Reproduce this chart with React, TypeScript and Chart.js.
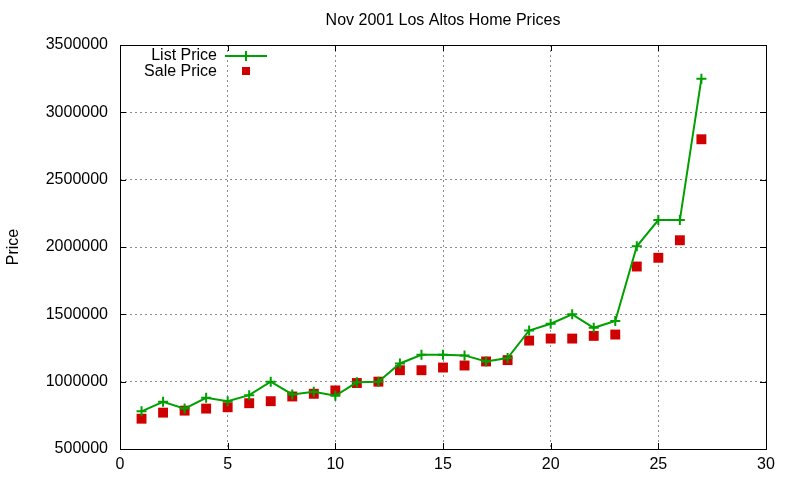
import React, { useEffect, useRef } from "react";
import { Chart, registerables } from "chart.js";

Chart.register(...registerables);

const xValues = [1, 2, 3, 4, 5, 6, 7, 8, 9, 10, 11, 12, 13, 14, 15, 16, 17, 18, 19, 20, 21, 22, 23, 24, 25, 26, 27];
const listPrice = [780000, 850000, 800000, 880000, 855000, 900000, 1000000, 905000, 925000, 895000, 995000, 1000000, 1135000, 1200000, 1200000, 1195000, 1150000, 1175000, 1380000, 1430000, 1500000, 1400000, 1450000, 2005000, 2200000, 2200000, 3250000];
const salePrice = [725000, 770000, 785000, 800000, 810000, 840000, 855000, 890000, 910000, 935000, 990000, 1000000, 1085000, 1085000, 1105000, 1120000, 1150000, 1160000, 1305000, 1320000, 1320000, 1340000, 1350000, 1855000, 1920000, 2050000, 2800000];
const xTicks = [0, 5, 10, 15, 20, 25, 30];
const yTicks = [500000, 1000000, 1500000, 2000000, 2500000, 3000000, 3500000];
const titleText = "Nov 2001 Los Altos Home Prices";
const yTitle = "Price";
const seriesNames = ["List Price", "Sale Price"];

const GREEN = "#00a000";
const RED = "#d00000";
const FONT = "'Liberation Sans', Arial, sans-serif";

const framePlugin = {
  id: "frameAndLegend",
  afterDraw(chart: any) {
    const { ctx, chartArea } = chart;
    const { left, right, top, bottom } = chartArea;
    ctx.save();
    ctx.strokeStyle = "#000";
    ctx.lineWidth = 1;
    ctx.strokeRect(Math.round(left) + 0.5, Math.round(top) + 0.5, Math.round(right - left), Math.round(bottom - top));
    const xs = chart.scales.x;
    const ys = chart.scales.y;
    ctx.beginPath();
    xTicks.forEach((t) => {
      const px = Math.round(xs.getPixelForValue(t)) + 0.5;
      ctx.moveTo(px, bottom);
      ctx.lineTo(px, bottom - 6);
      ctx.moveTo(px, top);
      ctx.lineTo(px, top + 6);
    });
    yTicks.forEach((t) => {
      const py = Math.round(ys.getPixelForValue(t)) + 0.5;
      ctx.moveTo(left, py);
      ctx.lineTo(left + 6, py);
      ctx.moveTo(right, py);
      ctx.lineTo(right - 6, py);
    });
    ctx.stroke();
    ctx.fillStyle = "#000";
    ctx.font = `16px ${FONT}`;
    ctx.textAlign = "center";
    ctx.textBaseline = "middle";
    ctx.fillText(titleText, (left + right) / 2, 21);
    ctx.textAlign = "right";
    ctx.fillText(seriesNames[0], 217, 56);
    ctx.fillText(seriesNames[1], 217, 72);
    ctx.strokeStyle = GREEN;
    ctx.lineWidth = 2;
    ctx.beginPath();
    ctx.moveTo(225, 56);
    ctx.lineTo(267, 56);
    ctx.moveTo(246, 51);
    ctx.lineTo(246, 61);
    ctx.moveTo(241, 56);
    ctx.lineTo(251, 56);
    ctx.stroke();
    ctx.fillStyle = RED;
    ctx.fillRect(242, 67, 8, 8);
    ctx.restore();
  },
};

export default function App() {
  const ref = useRef<HTMLCanvasElement | null>(null);
  useEffect(() => {
    document.body.style.margin = "0";
    if (!ref.current) return;
    const chart = new Chart(ref.current, {
      type: "scatter",
      data: {
        datasets: [
          {
            label: seriesNames[0],
            data: xValues.map((x, i) => ({ x, y: listPrice[i] })),
            showLine: true,
            borderColor: GREEN,
            backgroundColor: GREEN,
            borderWidth: 2,
            pointStyle: "cross",
            pointRadius: 5,
            pointBorderWidth: 2,
            pointBorderColor: GREEN,
            tension: 0,
          },
          {
            label: seriesNames[1],
            data: xValues.map((x, i) => ({ x, y: salePrice[i] })),
            showLine: false,
            backgroundColor: RED,
            borderColor: RED,
            pointStyle: "rect",
            pointRadius: 7,
            pointBorderWidth: 0,
          },
        ],
      },
      options: {
        animation: false,
        responsive: false,
        devicePixelRatio: 1,
        layout: { padding: { top: 45, right: 34, left: 4, bottom: 0 } },
        plugins: {
          legend: { display: false },
          title: { display: false },
          tooltip: { enabled: false },
        },
        scales: {
          x: {
            type: "linear",
            min: 0,
            max: 30,
            afterBuildTicks: (s: any) => {
              s.ticks = xTicks.map((v) => ({ value: v }));
            },
            afterFit: (s: any) => {
              s.height = 31;
            },
            border: { display: false, dash: [2, 3] },
            grid: { color: "#8c8c8c", lineWidth: 1, drawTicks: false },
            ticks: { color: "#000", padding: 6, font: { family: FONT, size: 16 }, maxRotation: 0 },
          },
          y: {
            type: "linear",
            min: 500000,
            max: 3500000,
            afterBuildTicks: (s: any) => {
              s.ticks = yTicks.map((v) => ({ value: v }));
            },
            afterFit: (s: any) => {
              s.width = 116;
            },
            border: { display: false, dash: [2, 3] },
            grid: { color: "#8c8c8c", lineWidth: 1, drawTicks: false },
            ticks: {
              color: "#000",
              padding: 12,
              font: { family: FONT, size: 16 },
              callback: (v: any) => String(v),
            },
            title: {
              display: true,
              text: yTitle,
              color: "#000",
              font: { family: FONT, size: 16 },
              padding: { top: 0, bottom: 0 },
            },
          },
        },
      },
      plugins: [framePlugin],
    } as any);
    return () => chart.destroy();
  }, []);
  return (
    <div style={{ position: "absolute", left: 0, top: 0, width: 800, height: 480, background: "#fff" }}>
      <canvas ref={ref} width={800} height={480} style={{ width: 800, height: 480 }} />
    </div>
  );
}
